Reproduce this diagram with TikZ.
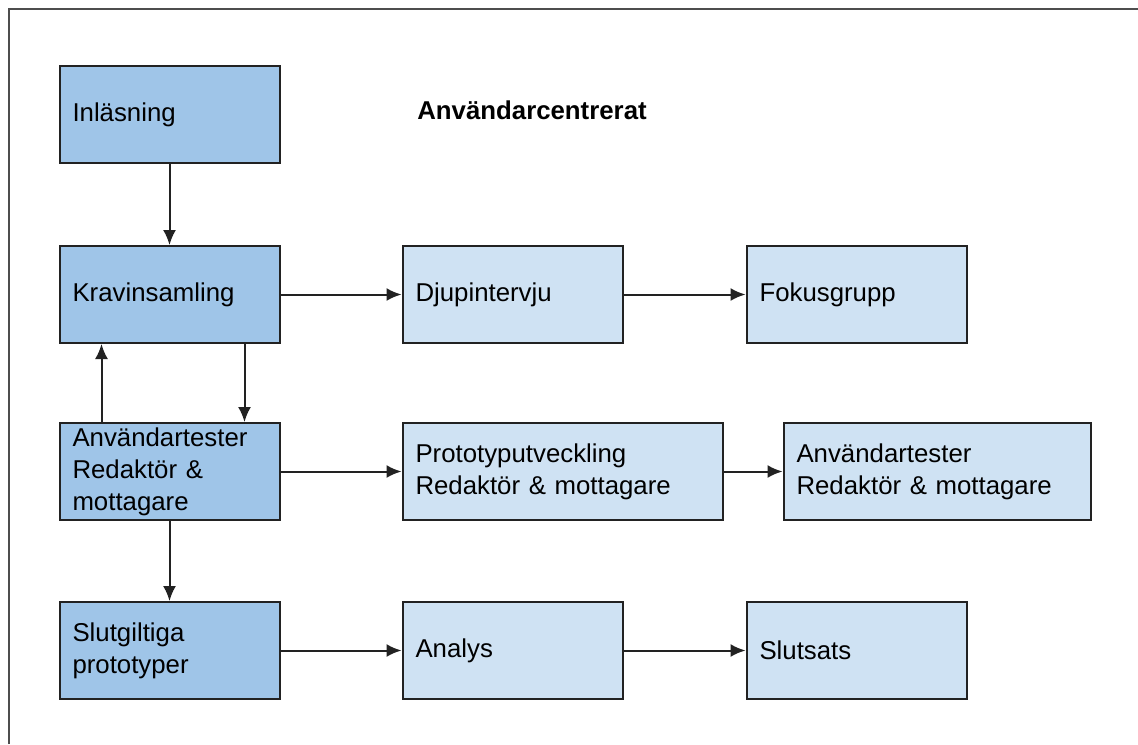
\documentclass[tikz,border=0pt]{standalone}
\usepackage{fontspec}
\setmainfont{Liberation Sans}
\usetikzlibrary{arrows.meta, positioning}
\definecolor{blamork}{HTML}{9FC5E8}
\definecolor{blaljus}{HTML}{CFE2F3}
\definecolor{kantgra}{HTML}{222222}
\colorlet{colKant}{kantgra}
\colorlet{colSteg}{blamork}
\colorlet{colMetod}{blaljus}
\tikzset{
  rutaBas/.style={
    draw=colKant, line width=1pt,
    minimum height=48.5pt, minimum width=110pt, text width=97pt,
    inner xsep=6.5pt, inner ysep=2pt, align=left,
    font=\fontsize{12.9}{16}\selectfont, text=black
  },
  rutaSteg/.style={rutaBas, fill=colSteg},
  rutaMetod/.style={rutaBas, fill=colMetod},
  pil/.style={-{Latex[length=7.5pt, width=6.5pt]}, line width=1pt, colKant},
  ram/.style={line width=1pt, colKant!80},
  rubrik/.style={font=\bfseries\fontsize{12.9}{16}\selectfont},
}
\begin{document}
\begin{tikzpicture}[node distance=39.5pt and 60.5pt]
    \useasboundingbox (0,0) rectangle (569pt,-372pt);
    \draw[ram] (4.5pt,-372pt) -- (4.5pt,-4.5pt) -- (569pt,-4.5pt);

    \node[rubrik] (titel) at (266pt,-55pt) {Användarcentrerat};

    % vänster kolumn
    \node[rutaSteg] (inl) at (84.75pt,-57.25pt) {Inläsning};
    \node[rutaSteg, below=40.5pt of inl] (krav) {Kravinsamling};
    \node[rutaSteg, below=39pt of krav] (anvL) {Användartester\\Redaktör \&\\mottagare};
    \node[rutaSteg, below=40pt of anvL] (slut) {Slutgiltiga\\prototyper};

    % metoder
    \node[rutaMetod, right=of krav] (djup) {Djupintervju};
    \node[rutaMetod, right=61pt of djup] (fokus) {Fokusgrupp};
    \node[rutaMetod, right=of anvL, minimum width=160pt, text width=147pt] (proto) {Prototyputveckling\\Redaktör \& mottagare};
    \node[rutaMetod, right=29.5pt of proto, minimum width=153.5pt, text width=140.5pt] (anvR) {Användartester\\Redaktör \& mottagare};
    \node[rutaMetod, right=of slut] (analys) {Analys};
    \node[rutaMetod, right=61pt of analys] (slutsats) {Slutsats};

    \draw[pil] (inl) -- (krav);
    \draw[pil] (krav) -- (djup);
    \draw[pil] (djup) -- (fokus);
    \draw[pil] ([xshift=21.5pt]anvL.north west) -- ([xshift=21.5pt]krav.south west);
    \draw[pil] ([xshift=-18pt]krav.south east) -- ([xshift=-18pt]anvL.north east);
    \draw[pil] (anvL) -- (proto);
    \draw[pil] (proto) -- (anvR);
    \draw[pil] (anvL) -- (slut);
    \draw[pil] (slut) -- (analys);
    \draw[pil] (analys) -- (slutsats);
  \end{tikzpicture}
\end{document}
